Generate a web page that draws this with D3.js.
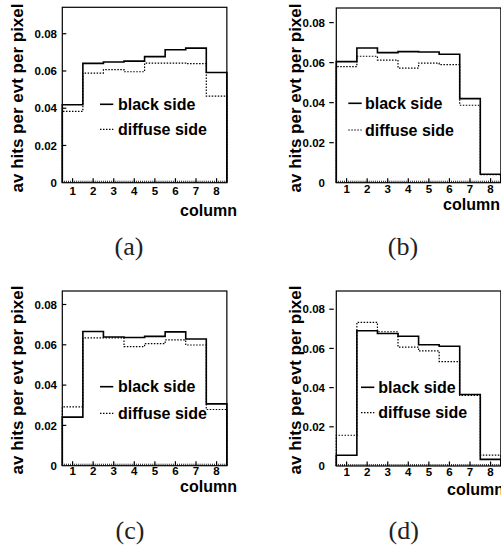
<!DOCTYPE html>
<html><head><meta charset="utf-8">
<script src="https://cdn.jsdelivr.net/npm/d3@7/dist/d3.min.js"></script>
<style>
html,body{margin:0;padding:0;background:#fff;}
svg{display:block;}
</style></head>
<body>
<script>
// ---- data ----
const columns = [1,2,3,4,5,6,7,8];
const yTicks = [0, 0.02, 0.04, 0.06, 0.08];
const yTickLabels = ["0","0.02","0.04","0.06","0.08"];
const seriesNames = ["black side","diffuse side"];
const panelLabels = ["(a)","(b)","(c)","(d)"];
const blackA   = [0.0419,0.0641,0.0648,0.0653,0.0677,0.0714,0.0723,0.0592];
const diffuseA = [0.0383,0.0589,0.0607,0.0596,0.0642,0.0642,0.0639,0.0465];
const blackB   = [0.0605,0.0673,0.0650,0.0655,0.0653,0.0642,0.0420,0.0042];
const diffuseB = [0.0580,0.0632,0.0613,0.0573,0.0598,0.0590,0.0387,0.0040];
const blackC   = [0.0241,0.0666,0.0639,0.0636,0.0642,0.0664,0.0629,0.0307];
const diffuseC = [0.0292,0.0634,0.0634,0.0591,0.0606,0.0624,0.0599,0.0279];
const blackD   = [0.0055,0.0690,0.0676,0.0662,0.0619,0.0611,0.0365,0.0034];
const diffuseD = [0.0157,0.0733,0.0685,0.0607,0.0587,0.0533,0.0360,0.0055];
const yMaxes = [0.0942, 0.0873, 0.0867, 0.0893];

// ---- layout ----
const W = 501, H = 547;
const svg = d3.select("body").append("svg").attr("width", W).attr("height", H);
const SANS = "'Liberation Sans', Arial, sans-serif";
const SERIF = "'Liberation Serif', 'DejaVu Serif', serif";

const layouts = [
  {left:62.3, top:7.3, bottom:182.7, tickOut:false, ylabX:23, ylabY:98, tlabR:57, xlabB:195, colR:237, colB:216,
   legL:100, legR:113.3, legT:118, legY1:104.3, legY2:129.3, capX:129, capY:255},
  {left:336.3, top:8, bottom:182.7, tickOut:true, ylabX:301, ylabY:98, tlabR:325, xlabB:193, colR:500, colB:210,
   legL:348.3, legR:361.7, legT:365, legY1:103.3, legY2:130, capX:403, capY:255},
  {left:62.3, top:291, bottom:465.7, tickOut:false, ylabX:23, ylabY:380, tlabR:57, xlabB:475, colR:237, colB:492,
   legL:100, legR:113.3, legT:118, legY1:386.7, legY2:413.3, capX:130, capY:539},
  {left:336.3, top:291, bottom:466, tickOut:true, ylabX:301, ylabY:380, tlabR:325, xlabB:476, colR:504, colB:494.5,
   legL:361, legR:374.3, legT:378.3, legY1:387.3, legY2:412.7, capX:403.7, capY:539}
];
const panelData = [[blackA,diffuseA],[blackB,diffuseB],[blackC,diffuseC],[blackD,diffuseD]];
const binW = 20.57;

function histPoints(vals){
  const pts = [[0.5,0]];
  vals.forEach((v,i)=>{ pts.push([columns[i]-0.5, v]); pts.push([columns[i]+0.5, v]); });
  pts.push([columns[columns.length-1]+0.5, 0]);
  return pts;
}

layouts.forEach((L, p) => {
  const g = svg.append("g");
  const right = L.left + binW*8;
  const x = d3.scaleLinear().domain([0.5, 8.5]).range([L.left, right]);
  const y = d3.scaleLinear().domain([0, yMaxes[p]]).range([L.bottom, L.top]);

  // histograms
  const line = d3.line().x(d=>x(d[0])).y(d=>y(d[1]));
  const [blk, dif] = panelData[p];
  g.append("path").attr("d", line(histPoints(dif))).attr("fill","none")
    .attr("stroke","#000").attr("stroke-width",1.2).attr("stroke-dasharray","1.5,1.5");
  g.append("path").attr("d", line(histPoints(blk))).attr("fill","none")
    .attr("stroke","#000").attr("stroke-width",1.6);

  // frame
  g.append("rect").attr("x",L.left).attr("y",L.top).attr("width",right-L.left).attr("height",L.bottom-L.top)
    .attr("fill","none").attr("stroke","#000").attr("stroke-width",1.2);

  // y ticks
  yTicks.forEach((t,i)=>{
    const yy = y(t);
    if (i>0) {
      if (L.tickOut) g.append("line").attr("x1",L.left-7).attr("x2",L.left-2.5).attr("y1",yy).attr("y2",yy).attr("stroke","#000").attr("stroke-width",1.2);
      else g.append("line").attr("x1",L.left).attr("x2",L.left+4).attr("y1",yy).attr("y2",yy).attr("stroke","#000").attr("stroke-width",1.2);
    }
    g.append("text").attr("x",L.tlabR).attr("y",yy).attr("dy","0.36em").attr("text-anchor","end")
      .attr("font-family",SANS).attr("font-weight","bold").attr("font-size",11.5).text(yTickLabels[i]);
  });

  // x minor ticks
  d3.range(0.6, 8.45, 0.1).forEach(t=>{
    g.append("line").attr("x1",x(t)).attr("x2",x(t)).attr("y1",L.bottom).attr("y2",L.bottom-2)
      .attr("stroke","#000").attr("stroke-width",0.8);
  });
  columns.forEach(c=>{
    g.append("line").attr("x1",x(c)).attr("x2",x(c)).attr("y1",L.bottom).attr("y2",L.bottom-4.5)
      .attr("stroke","#000").attr("stroke-width",1.2);
    g.append("text").attr("x",x(c)).attr("y",L.xlabB).attr("text-anchor","middle")
      .attr("font-family",SANS).attr("font-weight","bold").attr("font-size",11.5).text(c);
  });

  // axis titles
  g.append("text").attr("x",L.colR).attr("y",L.colB).attr("text-anchor","end")
    .attr("font-family",SANS).attr("font-weight","bold").attr("font-size",16).text("column");
  g.append("text").attr("transform",`translate(${L.ylabX},${L.ylabY}) rotate(-90)`).attr("text-anchor","middle")
    .attr("font-family",SANS).attr("font-weight","bold").attr("font-size",17).text("av hits per evt per pixel");

  // legend
  g.append("line").attr("x1",L.legL).attr("x2",L.legR).attr("y1",L.legY1).attr("y2",L.legY1)
    .attr("stroke","#000").attr("stroke-width",1.6);
  g.append("text").attr("x",L.legT).attr("y",L.legY1+5.6).attr("font-family",SANS).attr("font-weight","bold")
    .attr("font-size",16).text(seriesNames[0]);
  g.append("line").attr("x1",L.legL).attr("x2",L.legR).attr("y1",L.legY2).attr("y2",L.legY2)
    .attr("stroke","#000").attr("stroke-width",1.2).attr("stroke-dasharray","1.5,1.5");
  g.append("text").attr("x",L.legT).attr("y",L.legY2+5.6).attr("font-family",SANS).attr("font-weight","bold")
    .attr("font-size",16).text(seriesNames[1]);

  // caption
  g.append("text").attr("x",L.capX).attr("y",L.capY).attr("text-anchor","middle")
    .attr("font-family",SERIF).attr("font-size",26).attr("fill","#222").text(panelLabels[p]);
});
</script>
</body></html>
